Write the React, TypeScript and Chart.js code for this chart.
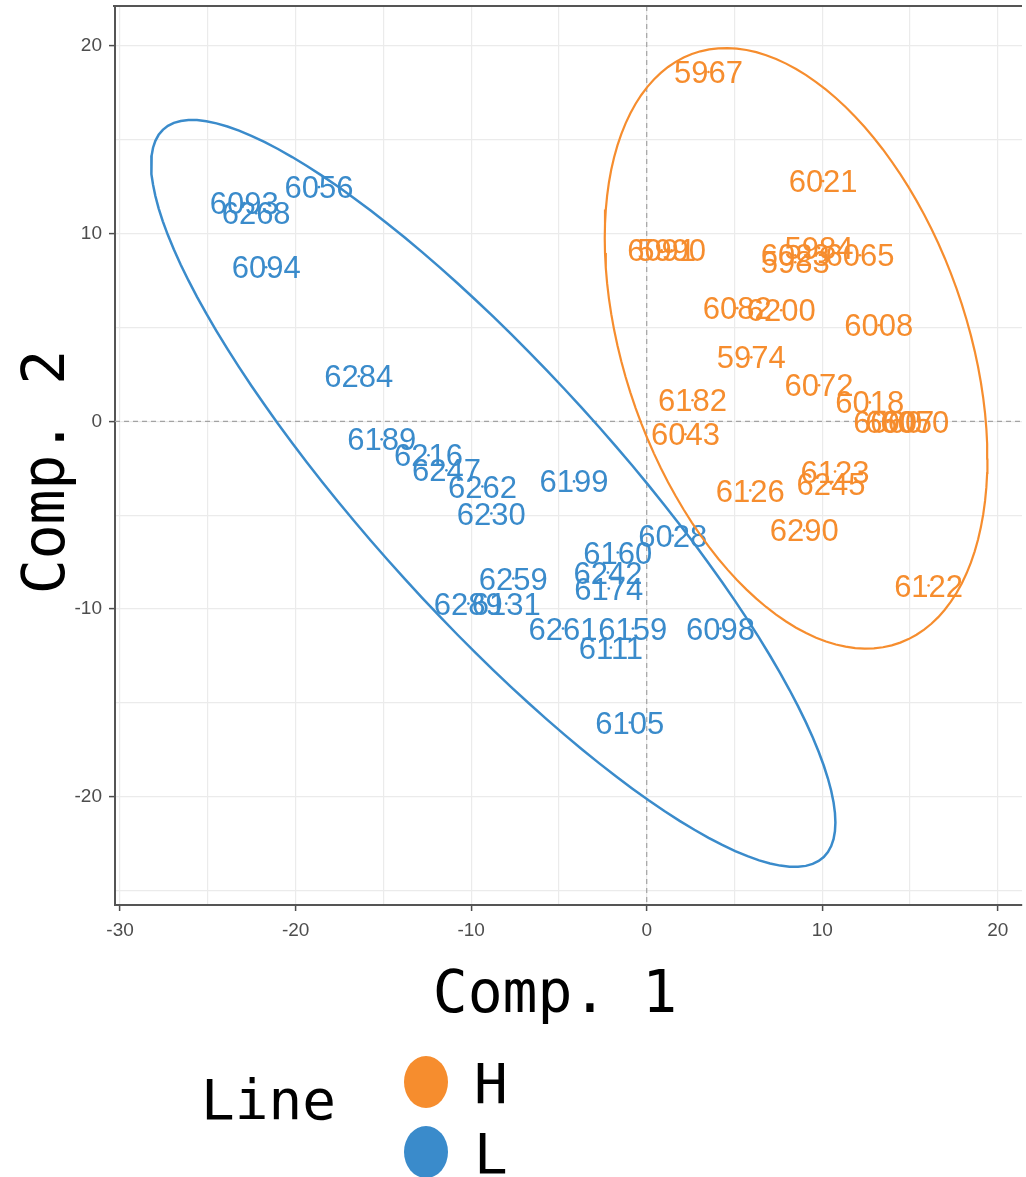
import React, { useEffect, useRef } from 'react';
import { Chart, registerables } from 'chart.js';
Chart.register(...registerables);

const ORANGE = '#F68D2E';
const BLUE = '#3A8BCB';

// Group H labels and coordinates
const hLabels = ['5967', '6021', '6091', '5990', '6023', '5983', '5984', '6065', '6082', '6200', '6008', '5974', '6072', '6018', '6060', '6007', '6050', '6182', '6043', '6123', '6245', '6126', '6290', '6122'];
const hX = [3.52, 10.05, 0.85, 1.42, 8.46, 8.46, 9.82, 12.15, 5.16, 7.66, 13.22, 5.96, 9.82, 12.71, 13.73, 14.42, 15.27, 2.61, 2.21, 10.73, 10.5, 5.9, 8.97, 16.06];
const hY = [18.61, 12.8, 9.12, 9.12, 8.85, 8.48, 9.23, 8.85, 6.03, 5.92, 5.12, 3.41, 1.92, 1.01, -0.03, -0.03, -0.03, 1.12, -0.69, -2.67, -3.31, -3.68, -5.81, -8.75];

// Group L labels and coordinates
const lLabels = ['6093', '6268', '6056', '6094', '6284', '6189', '6216', '6247', '6262', '6230', '6199', '6028', '6160', '6242', '6174', '6259', '6289', '6131', '6261', '6159', '6111', '6098', '6105'];
const lX = [-22.93, -22.25, -18.67, -21.68, -16.4, -15.1, -12.43, -11.41, -9.36, -8.85, -4.14, 1.48, -1.65, -2.21, -2.16, -7.6, -10.16, -8.0, -4.77, -0.79, -2.04, 4.2, -0.96];
const lY = [11.63, 11.09, 12.48, 8.21, 2.4, -0.96, -1.81, -2.61, -3.47, -4.91, -3.2, -6.08, -6.99, -8.05, -8.91, -8.37, -9.71, -9.71, -11.04, -11.04, -12.05, -11.04, -16.05];

// Ellipse parameters: [centerX, centerY, sdX, sdY, correlation]
const hEllipse = [8.51, 3.89, 10.9, 16.0, -0.367];
const lEllipse = [-8.74, -3.84, 19.49, 19.9, -0.881];

// Axis ticks
const xTickValues = [-30, -25, -20, -15, -10, -5, 0, 5, 10, 15, 20];
const yTickValues = [-25, -20, -15, -10, -5, 0, 5, 10, 15, 20];
const X_MIN = -30.29, X_MAX = 21.38, Y_MIN = -25.77, Y_MAX = 22.13;

const legendNames = ['H', 'L'];
const legendColors = [ORANGE, BLUE];

function ellipsePoints(p: number[]) {
  const [cx, cy, sx, sy, rho] = p;
  const s = Math.sqrt(1 - rho * rho);
  const pts: { x: number; y: number }[] = [];
  const n = 120;
  for (let i = 0; i <= n; i++) {
    const t = (i / n) * Math.PI * 2;
    pts.push({ x: cx + sx * Math.cos(t), y: cy + sy * (rho * Math.cos(t) + s * Math.sin(t)) });
  }
  return pts;
}

const LABEL_FONT = 31;

const deco = {
  id: 'deco',
  beforeDatasetsDraw(chart: any) {
    const { ctx, chartArea, scales } = chart;
    const x0 = scales.x.getPixelForValue(0);
    const y0 = scales.y.getPixelForValue(0);
    ctx.save();
    ctx.strokeStyle = '#A3A3A3';
    ctx.lineWidth = 1.2;
    ctx.setLineDash([5, 4]);
    ctx.beginPath();
    ctx.moveTo(x0, chartArea.top);
    ctx.lineTo(x0, chartArea.bottom);
    ctx.moveTo(chartArea.left, y0);
    ctx.lineTo(chartArea.right, y0);
    ctx.stroke();
    ctx.setLineDash([]);
    ctx.strokeStyle = '#555555';
    ctx.lineWidth = 2;
    ctx.beginPath();
    ctx.moveTo(chartArea.left - 2, chartArea.top);
    ctx.lineTo(chartArea.right, chartArea.top);
    ctx.stroke();
    ctx.restore();
  },
  afterDatasetDraw(chart: any, args: any) {
    const ds = chart.data.datasets[args.index];
    if (!ds.textLabels) return;
    const ctx = chart.ctx;
    ctx.save();
    ctx.font = `${LABEL_FONT}px "Liberation Sans", Arial, sans-serif`;
    ctx.fillStyle = ds.backgroundColor;
    ctx.textAlign = 'center';
    ctx.textBaseline = 'alphabetic';
    args.meta.data.forEach((el: any, i: number) => {
      ctx.fillText(ds.textLabels[i], el.x, el.y + 0.358 * LABEL_FONT);
    });
    ctx.restore();
  },
  afterDraw(chart: any) {
    const ctx = chart.ctx;
    ctx.save();
    ctx.fillStyle = '#000';
    ctx.font = '58px "DejaVu Sans Mono", monospace';
    ctx.textAlign = 'center';
    ctx.textBaseline = 'alphabetic';
    ctx.fillText('Comp. 1', 555, 1012);
    ctx.save();
    ctx.translate(64, 472);
    ctx.rotate(-Math.PI / 2);
    ctx.fillText('Comp. 2', 0, 0);
    ctx.restore();
    ctx.textAlign = 'left';
    ctx.font = '56px "DejaVu Sans Mono", monospace';
    ctx.fillText('Line', 201, 1119);
    legendNames.forEach((name, i) => {
      const cy = 1082 + i * 70;
      ctx.fillStyle = legendColors[i];
      ctx.beginPath();
      ctx.ellipse(426, cy, 22, 26, 0, 0, Math.PI * 2);
      ctx.fill();
      ctx.fillStyle = '#000';
      ctx.fillText(name, 474, cy + 21);
    });
    ctx.restore();
  },
};

export default function App() {
  const ref = useRef<HTMLCanvasElement>(null);
  useEffect(() => {
    const tickFont = { family: '"Liberation Sans", Arial, sans-serif', size: 19 };
    const chart = new Chart(ref.current as HTMLCanvasElement, {
      type: 'scatter',
      data: {
        datasets: [
          {
            label: 'H',
            data: hX.map((x, i) => ({ x, y: hY[i] })),
            textLabels: hLabels,
            backgroundColor: ORANGE,
            borderColor: ORANGE,
            pointRadius: 1.3,
            pointBorderWidth: 0,
            order: 2,
          } as any,
          {
            label: 'L',
            data: lX.map((x, i) => ({ x, y: lY[i] })),
            textLabels: lLabels,
            backgroundColor: BLUE,
            borderColor: BLUE,
            pointRadius: 1.3,
            pointBorderWidth: 0,
            order: 2,
          } as any,
          {
            label: 'H ellipse',
            data: ellipsePoints(hEllipse),
            showLine: true,
            borderColor: ORANGE,
            borderWidth: 2.2,
            pointRadius: 0,
            fill: false,
            tension: 0,
            order: 1,
          },
          {
            label: 'L ellipse',
            data: ellipsePoints(lEllipse),
            showLine: true,
            borderColor: BLUE,
            borderWidth: 2.5,
            pointRadius: 0,
            fill: false,
            tension: 0,
            order: 0,
          },
        ],
      },
      options: {
        responsive: false,
        devicePixelRatio: 1,
        animation: false,
        layout: { padding: { top: 6, left: 0, right: 0, bottom: 0 } },
        plugins: { legend: { display: false }, tooltip: { enabled: false } },
        scales: {
          x: {
            type: 'linear',
            min: X_MIN,
            max: X_MAX,
            afterBuildTicks: (scale: any) => {
              scale.ticks = xTickValues.map((v) => ({ value: v }));
            },
            afterFit: (scale: any) => {
              scale.height = 272;
              scale.paddingLeft = 0;
              scale.paddingRight = 0;
              scale.paddingTop = 0;
              scale.paddingBottom = 0;
            },
            grid: {
              color: '#EBEBEB',
              lineWidth: 1.2,
              tickLength: 6,
              tickColor: (c: any) => (c.tick && c.tick.value % 10 === 0 ? '#4D4D4D' : 'rgba(0,0,0,0)'),
              tickWidth: 1.5,
            },
            border: { display: true, color: '#555555', width: 2 },
            ticks: {
              autoSkip: false,
              maxRotation: 0,
              padding: 8,
              color: '#4D4D4D',
              font: tickFont,
              callback: (v: any) => (Number(v) % 10 === 0 ? String(v) : ''),
            },
          },
          y: {
            type: 'linear',
            min: Y_MIN,
            max: Y_MAX,
            afterBuildTicks: (scale: any) => {
              scale.ticks = yTickValues.map((v) => ({ value: v }));
            },
            afterFit: (scale: any) => {
              scale.width = 115;
              scale.paddingLeft = 0;
              scale.paddingRight = 0;
              scale.paddingTop = 0;
              scale.paddingBottom = 0;
            },
            grid: {
              color: '#EBEBEB',
              lineWidth: 1.2,
              tickLength: 6,
              tickColor: (c: any) => (c.tick && c.tick.value % 10 === 0 ? '#4D4D4D' : 'rgba(0,0,0,0)'),
              tickWidth: 1.5,
            },
            border: { display: true, color: '#555555', width: 2 },
            ticks: {
              autoSkip: false,
              padding: 7,
              color: '#4D4D4D',
              font: tickFont,
              callback: (v: any) => (Number(v) % 10 === 0 ? String(v) : ''),
            },
          },
        },
      },
      plugins: [deco],
    } as any);
    return () => chart.destroy();
  }, []);
  return (
    <div style={{ position: 'absolute', left: 0, top: 0, width: 1026, height: 1177, background: '#fff' }}>
      <canvas ref={ref} width={1026} height={1177} style={{ display: 'block', width: 1026, height: 1177 }} />
    </div>
  );
}
